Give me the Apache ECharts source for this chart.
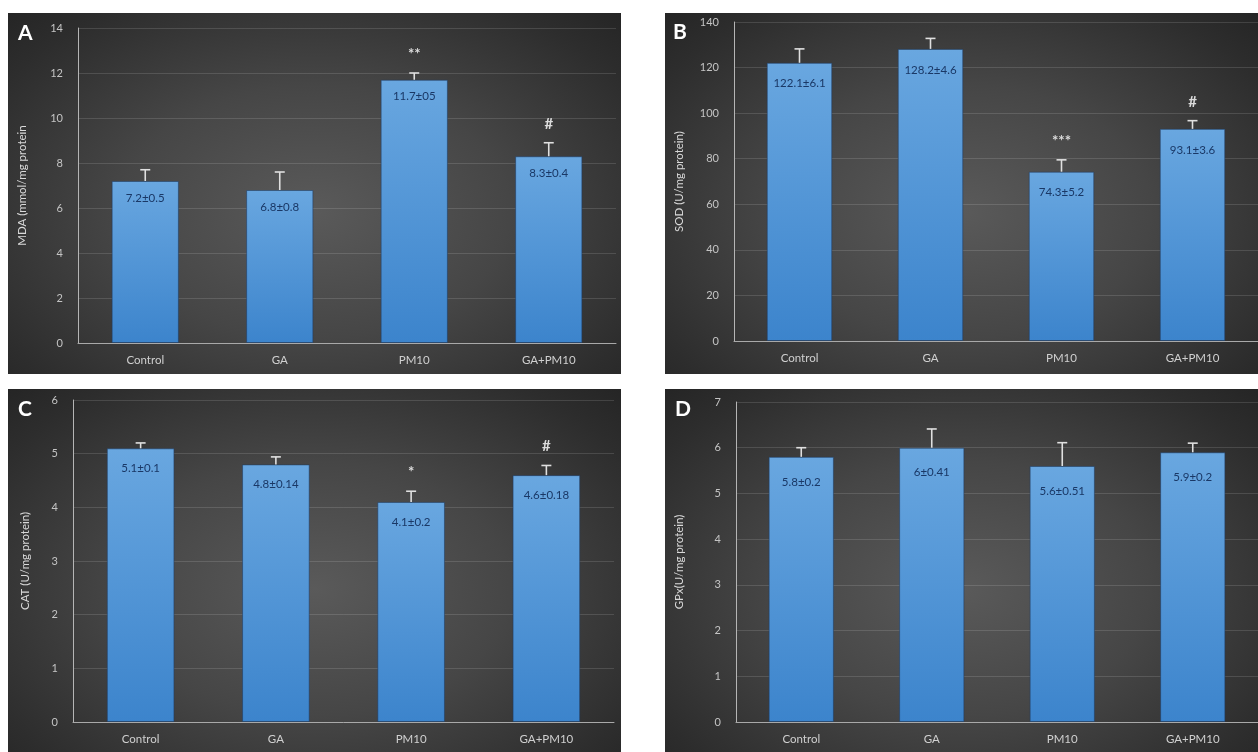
<!DOCTYPE html>
<html><head><meta charset="utf-8">
<script src="https://cdn.jsdelivr.net/npm/echarts@6/dist/echarts.min.js"></script>
<style>
html,body{margin:0;padding:0;background:#fff;width:1258px;height:752px;overflow:hidden;}
.panel{position:absolute;background:radial-gradient(ellipse at 50% 55%, #5a5a5a 0%, #464646 45%, #2d2d2d 85%, #252525 100%);}
</style></head>
<body>
<div id="pA" class="panel" style="left:8px;top:13px;width:613px;height:361px"></div>
<div id="pB" class="panel" style="left:665px;top:13px;width:593px;height:361px"></div>
<div id="pC" class="panel" style="left:8px;top:389px;width:613px;height:363px"></div>
<div id="pD" class="panel" style="left:665px;top:389px;width:593px;height:363px"></div>
<script>
const categories = ['Control', 'GA', 'PM10', 'GA+PM10'];

const mdaValues = [7.2, 6.8, 11.7, 8.3];
const mdaErrors = [0.5, 0.8, 0.3, 0.6];
const mdaLabels = ['7.2±0.5', '6.8±0.8', '11.7±05', '8.3±0.4'];
const mdaMarks = ['', '', '**', '#'];

const sodValues = [122.1, 128.2, 74.3, 93.1];
const sodErrors = [6.1, 4.6, 5.2, 3.6];
const sodLabels = ['122.1±6.1', '128.2±4.6', '74.3±5.2', '93.1±3.6'];
const sodMarks = ['', '', '***', '#'];

const catValues = [5.1, 4.8, 4.1, 4.6];
const catErrors = [0.1, 0.14, 0.2, 0.18];
const catLabels = ['5.1±0.1', '4.8±0.14', '4.1±0.2', '4.6±0.18'];
const catMarks = ['', '', '*', '#'];

const gpxValues = [5.8, 6.0, 5.6, 5.9];
const gpxErrors = [0.2, 0.41, 0.51, 0.2];
const gpxLabels = ['5.8±0.2', '6±0.41', '5.6±0.51', '5.9±0.2'];
const gpxMarks = ['', '', '', ''];

const FONT = 'Lato, "Open Sans", sans-serif';

function makePanel(id, cfg) {
  const chart = echarts.init(document.getElementById(id), null, {renderer: 'canvas'});
  const errData = categories.map((c, i) => [i, cfg.values[i], cfg.errors[i]]);
  chart.setOption({
    backgroundColor: 'transparent',
    animation: false,
    textStyle: {fontFamily: FONT},
    grid: cfg.grid,
    graphic: [{
      type: 'text', left: cfg.letterPos[0], top: cfg.letterPos[1],
      style: {text: cfg.letter, fill: '#ffffff', font: 'bold 21px ' + FONT}
    }],
    xAxis: {
      type: 'category', data: categories,
      axisLine: {show: true, lineStyle: {color: '#a9a9a9', width: 1}},
      axisTick: {show: false},
      axisLabel: {color: '#d0d0d0', fontSize: 11.5, margin: 11, fontFamily: FONT},
      splitLine: {show: false}
    },
    yAxis: {
      type: 'value', min: 0, max: cfg.max, interval: cfg.interval,
      name: cfg.yName, nameLocation: 'middle', nameGap: cfg.nameGap, nameRotate: 90,
      nameTextStyle: {color: '#d9d9d9', fontSize: 11.5, fontFamily: FONT},
      axisLine: {show: true, lineStyle: {color: '#b5b5b5', width: 1}},
      axisTick: {show: false},
      axisLabel: {color: '#c4c4c4', fontSize: 11, margin: 15, fontFamily: FONT},
      splitLine: {show: true, lineStyle: {color: 'rgba(255,255,255,0.13)', width: 1}}
    },
    series: [{
      type: 'bar', data: cfg.values, barWidth: '50%',
      itemStyle: {
        color: new echarts.graphic.LinearGradient(0, 0, 0, 1, [
          {offset: 0, color: '#69a7e0'}, {offset: 1, color: '#3c84cc'}
        ]),
        borderColor: 'rgba(30,60,100,0.55)', borderWidth: 1
      },
      label: {
        show: true, position: 'insideTop', distance: cfg.labelDist,
        color: '#1a3866', fontSize: 11.5, fontFamily: FONT,
        formatter: p => cfg.labels[p.dataIndex]
      }
    }, {
      type: 'custom', data: errData, z: 5,
      encode: {x: 0, y: [1, 2]},
      renderItem: function (params, api) {
        const i = api.value(0), v = api.value(1), e = api.value(2);
        const base = api.coord([i, v]);
        const top = api.coord([i, v + e]);
        const w = 5;
        const mark = cfg.marks[params.dataIndex];
        const st = {stroke: '#e0e0e0', lineWidth: 1.6};
        const children = [
          {type: 'line', shape: {x1: base[0], y1: base[1], x2: top[0], y2: top[1]}, style: st},
          {type: 'line', shape: {x1: top[0] - w, y1: top[1], x2: top[0] + w, y2: top[1]}, style: st}
        ];
        if (mark) {
          children.push({type: 'text', x: top[0], y: top[1] - 19,
            style: {text: mark, fill: '#dcdcdc', font: 'bold 15px ' + FONT, align: 'center', verticalAlign: 'middle'}});
        }
        return {type: 'group', children: children};
      }
    }]
  });
}

makePanel('pA', {values: mdaValues, errors: mdaErrors, labels: mdaLabels, marks: mdaMarks,
  max: 14, interval: 2, yName: 'MDA (mmol/mg protein', nameGap: 50, labelDist: 11,
  grid: {left: 64, right: 5, top: 15, bottom: 31}, letter: 'A', letterPos: [10, 10]});
makePanel('pB', {values: sodValues, errors: sodErrors, labels: sodLabels, marks: sodMarks,
  max: 140, interval: 20, yName: 'SOD (U/mg protein)', nameGap: 49, labelDist: 15,
  grid: {left: 64, right: -1, top: 9, bottom: 33}, letter: 'B', letterPos: [8, 9]});
makePanel('pC', {values: catValues, errors: catErrors, labels: catLabels, marks: catMarks,
  max: 6, interval: 1, yName: 'CAT (U/mg protein)', nameGap: 42, labelDist: 14,
  grid: {left: 65, right: 7, top: 11, bottom: 30}, letter: 'C', letterPos: [10, 10]});
makePanel('pD', {values: gpxValues, errors: gpxErrors, labels: gpxLabels, marks: gpxMarks,
  max: 7, interval: 1, yName: 'GPx(U/mg protein)', nameGap: 51, labelDist: 19,
  grid: {left: 68, right: -8, top: 13, bottom: 30}, letter: 'D', letterPos: [10, 10]});
</script>
</body></html>
